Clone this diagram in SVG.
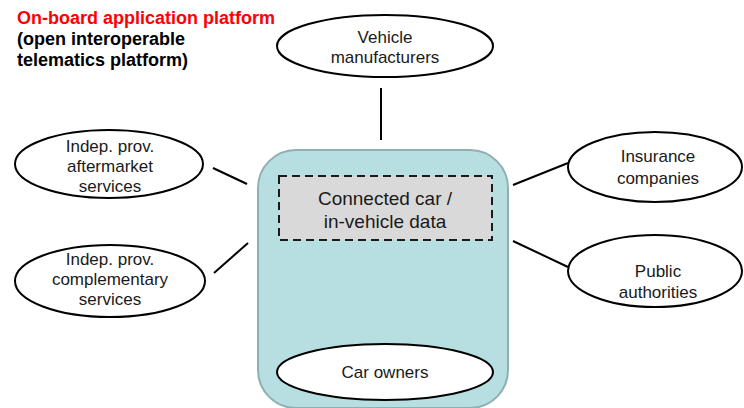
<svg xmlns="http://www.w3.org/2000/svg" width="744" height="408" viewBox="0 0 744 408">
<style>
.t{font-family:"Liberation Sans",Arial,sans-serif;font-size:17px;fill:#1a1a1a;text-anchor:middle}
.e{fill:#fff;stroke:#000;stroke-width:2}
.c{stroke:#000;stroke-width:2;fill:none}
.h{font-family:"Liberation Sans",Arial,sans-serif;font-size:18px;font-weight:bold}
</style>
<rect width="744" height="408" fill="#fff"/>
<g id="title">
<text class="h" x="17" y="24" fill="#ff0000">On-board application platform</text>
<text class="h" x="17" y="45" fill="#000">(open interoperable</text>
<text class="h" x="17" y="66" fill="#000">telematics platform)</text>
</g>
<g id="connectors">
<line class="c" x1="381" y1="88" x2="381" y2="140"/>
<line class="c" x1="213" y1="168" x2="247" y2="184"/>
<line class="c" x1="214" y1="273" x2="248" y2="243"/>
<line class="c" x1="513" y1="185" x2="568" y2="163"/>
<line class="c" x1="513" y1="241" x2="568" y2="267"/>
</g>
<g id="platform">
<rect x="258" y="150" width="250" height="258" rx="38" fill="#b7dfe1" stroke="#8fb0b3" stroke-width="2"/>
</g>
<g id="data">
<rect x="279" y="176" width="213" height="64" fill="#d9d9d9" stroke="#1a1a1a" stroke-width="2" stroke-dasharray="8,5"/>
<text class="t" x="385" y="205" style="font-size:19px">Connected car /</text>
<text class="t" x="385" y="228" style="font-size:19px">in-vehicle data</text>
</g>
<g id="owners">
<ellipse class="e" cx="385" cy="372" rx="108" ry="28"/>
<text class="t" x="385" y="378">Car owners</text>
</g>
<g id="manufacturers">
<ellipse class="e" cx="385" cy="46" rx="108" ry="31"/>
<text class="t" x="385" y="43">Vehicle</text>
<text class="t" x="385" y="63">manufacturers</text>
</g>
<g id="aftermarket">
<ellipse class="e" cx="109" cy="164" rx="94" ry="34"/>
<text class="t" x="110" y="152">Indep. prov.</text>
<text class="t" x="110" y="172">aftermarket</text>
<text class="t" x="110" y="192">services</text>
</g>
<g id="complementary">
<ellipse class="e" cx="110" cy="281" rx="95" ry="36"/>
<text class="t" x="110" y="265">Indep. prov.</text>
<text class="t" x="110" y="285">complementary</text>
<text class="t" x="110" y="305">services</text>
</g>
<g id="insurance">
<ellipse class="e" cx="655" cy="167" rx="87" ry="35"/>
<text class="t" x="658" y="162">Insurance</text>
<text class="t" x="658" y="184">companies</text>
</g>
<g id="public">
<ellipse class="e" cx="655" cy="271" rx="87" ry="36"/>
<text class="t" x="658" y="277">Public</text>
<text class="t" x="658" y="298">authorities</text>
</g>
</svg>
